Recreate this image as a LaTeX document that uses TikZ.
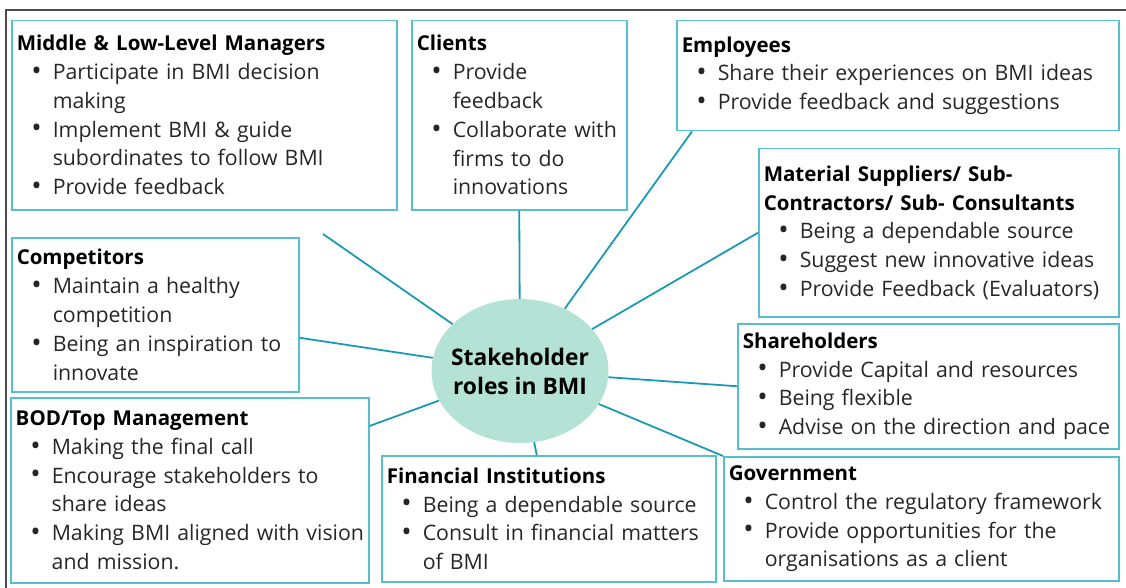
\documentclass[tikz,border=0pt]{standalone}
\usepackage{fontspec}
\setmainfont{Open Sans}
\usepackage{tikz}
\usetikzlibrary{shapes.geometric}
\definecolor{edge}{HTML}{1A9AB3}
\definecolor{rim}{HTML}{58BDCF}
\definecolor{mint}{HTML}{B4E2D4}
\tikzstyle{role} = [draw=rim, line width=1.5pt, anchor=north west, align=left, inner xsep=5pt, inner ysep=0pt, text=black!85, font=\fontsize{21.3}{28.8}\selectfont]
\tikzstyle{hub} = [ellipse, fill=mint, minimum width=177pt, minimum height=144pt, inner xsep=-12pt, inner ysep=0pt, align=center, font=\bfseries\fontsize{22.8}{29}\selectfont]
\tikzstyle{link} = [draw=edge, line width=1.8pt]
\newcommand{\bul}[1]{\makebox[36pt][r]{\raisebox{-0.8pt}{\scalebox{1.3}{\textbullet}}\hspace{11pt}}\mbox{#1}}
\newcommand{\cnt}[1]{\hspace*{36pt}\mbox{#1}}
\newcommand{\head}[1]{{\color{black}\bfseries\fontsize{20.5}{28.8}\selectfont #1}}

\begin{document}
\begin{tikzpicture}[x=1pt, y=-1pt]
        \useasboundingbox (0,0) rectangle (1126,588);
        \draw [black!70, line width=1.2pt] (6,588) -- (6,10) -- (1126,10);
        \node (core) [hub] at (520,371) {Stakeholder\\roles in BMI};
        \node (mgr) [role, text width=375pt, minimum height=189pt] at (11,20) {\head{Middle \& Low-Level Managers}\\\bul{Participate in BMI decision}\\\cnt{making}\\\bul{Implement BMI \& guide}\\\cnt{subordinates to follow BMI}\\\bul{Provide feedback}};
        \node (cli) [role, text width=205pt, minimum height=189pt] at (411,20) {\head{Clients}\\\bul{Provide}\\\cnt{feedback}\\\bul{Collaborate with}\\\cnt{firms to do}\\\cnt{innovations}};
        \node (emp) [role, text width=432pt, minimum height=110pt] at (676,20) {\head{Employees}\\\bul{Share their experiences on BMI ideas}\\\bul{Provide feedback and suggestions}};
        \node (sup) [role, text width=350pt, minimum height=168pt] at (758,148) {\head{Material Suppliers/ Sub-}\\\head{Contractors/ Sub- Consultants}\\\bul{Being a dependable source}\\\bul{Suggest new innovative ideas}\\\bul{Provide Feedback (Evaluators)}};
        \node (sha) [role, text width=371pt, minimum height=125pt] at (737,323) {\head{Shareholders}\\\bul{Provide Capital and resources}\\\bul{Being flexible}\\\bul{Advise on the direction and pace}};
        \node (gov) [role, text width=385pt, minimum height=124pt] at (723,456) {\head{Government}\\\bul{Control the regulatory framework}\\\bul{Provide opportunities for the}\\\cnt{organisations as a client}};
        \node (fin) [role, text width=324pt, minimum height=126pt] at (381,455) {\head{Financial Institutions}\\\bul{Being a dependable source}\\\bul{Consult in financial matters}\\\cnt{of BMI}};
        \node (bod) [role, text width=348pt, minimum height=185pt] at (10,397) {\head{BOD/Top Management}\\\bul{Making the final call}\\\bul{Encourage stakeholders to}\\\cnt{share ideas}\\\bul{Making BMI aligned with vision}\\\cnt{and mission.}};
        \node (com) [role, text width=277pt, minimum height=154pt] at (11,237) {\head{Competitors}\\\bul{Maintain a healthy}\\\cnt{competition}\\\bul{Being an inspiration to}\\\cnt{innovate}};
        \coordinate (mgrend) at (323,234);
        \draw [link] (core) -- (mgrend);
        \draw [link] (core) -- (cli.south);
        \draw [link] (core) -- ([xshift=16pt]emp.south west);
        \draw [link] (core) -- (sup.west);
        \draw [link] (core) -- (sha.west);
        \draw [link] (core) -- (gov.north west);
        \draw [link] (core) -- ([xshift=-12pt]fin.north);
        \draw [link] (core) -- ([yshift=-29pt]bod.north east);
        \draw [link] (core) -- ([yshift=-23pt]com.east);
    \end{tikzpicture}
\end{document}
